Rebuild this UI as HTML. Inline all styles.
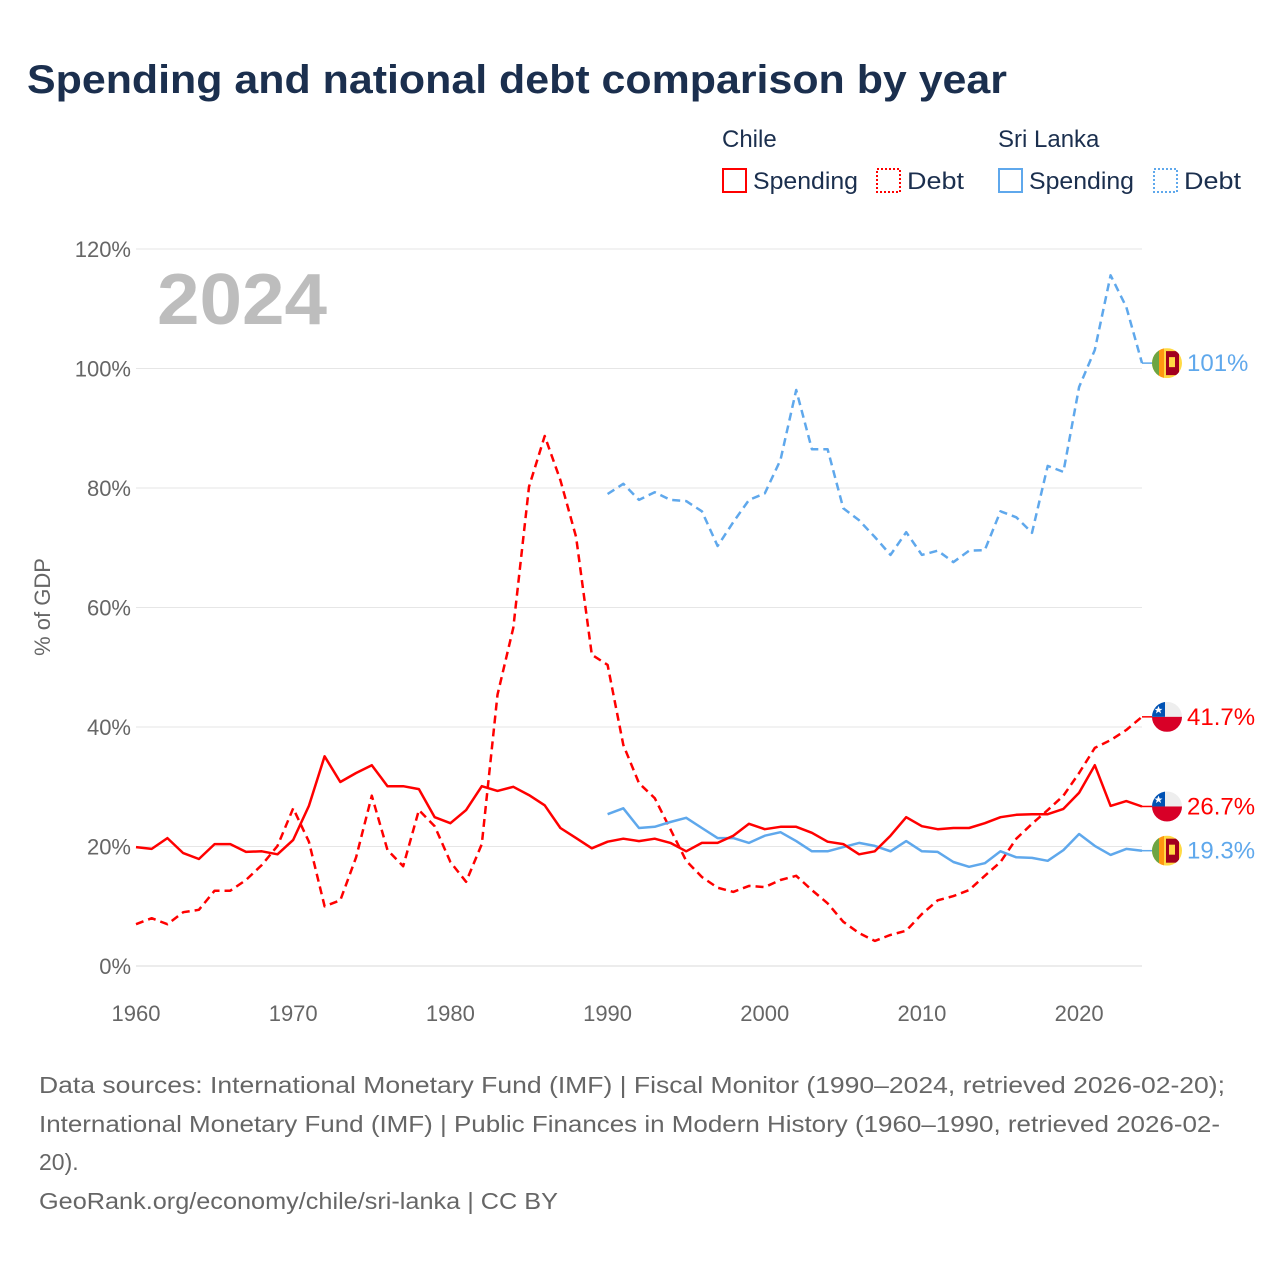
<!DOCTYPE html>
<html><head><meta charset="utf-8"><style>
html,body{margin:0;padding:0;background:#fff;}
svg{display:block;font-family:"Liberation Sans",sans-serif;}
</style></head><body>
<svg id="chart" width="1280" height="1280" viewBox="0 0 1280 1280">
<defs>
<clipPath id="fc"><circle cx="0" cy="0" r="15"/></clipPath>
</defs>
<text x="27" y="93" font-size="40" font-weight="bold" fill="#1b2f4e" textLength="980" lengthAdjust="spacingAndGlyphs">Spending and national debt comparison by year</text>
<g font-size="24" fill="#1b2f4e">
<text x="722" y="147">Chile</text>
<text x="998" y="147">Sri Lanka</text>
<g><rect x="723" y="169" width="23" height="23" fill="none" stroke="#ff0000" stroke-width="2"/><text x="753" y="189" textLength="105" lengthAdjust="spacingAndGlyphs">Spending</text></g>
<g><rect x="877" y="169" width="23" height="23" fill="none" stroke="#ff0000" stroke-width="2" stroke-dasharray="2,2"/><text x="907" y="189" textLength="57" lengthAdjust="spacingAndGlyphs">Debt</text></g>
<g><rect x="999" y="169" width="23" height="23" fill="none" stroke="#5fa8ec" stroke-width="2"/><text x="1029" y="189" textLength="105" lengthAdjust="spacingAndGlyphs">Spending</text></g>
<g><rect x="1154" y="169" width="23" height="23" fill="none" stroke="#5fa8ec" stroke-width="2" stroke-dasharray="2,2"/><text x="1184" y="189" textLength="57" lengthAdjust="spacingAndGlyphs">Debt</text></g>
</g>
<text x="157" y="324" font-size="72" font-weight="bold" fill="#bdbdbd" textLength="170" lengthAdjust="spacingAndGlyphs">2024</text>
<text transform="translate(50,607) rotate(-90)" text-anchor="middle" font-size="22" fill="#666">% of GDP</text>
<g id="grid"></g>
<g id="xaxis"></g>
<g id="series"></g>
<g id="ends"></g>
<g font-size="23" fill="#666">
<text x="39" y="1093" textLength="1186" lengthAdjust="spacingAndGlyphs">Data sources: International Monetary Fund (IMF) | Fiscal Monitor (1990–2024, retrieved 2026-02-20);</text>
<text x="39" y="1132" textLength="1181" lengthAdjust="spacingAndGlyphs">International Monetary Fund (IMF) | Public Finances in Modern History (1960–1990, retrieved 2026-02-</text>
<text x="39" y="1170">20).</text>
<text x="39" y="1209" textLength="519" lengthAdjust="spacingAndGlyphs">GeoRank.org/economy/chile/sri-lanka | CC BY</text>
</g>
</svg>
<script>
const yTicks = [0,20,40,60,80,100,120];
const xTicks = [1960,1970,1980,1990,2000,2010,2020];
const chileYears0 = 1960;
const lankaYears0 = 1990;
const chileSpending = [19.9,19.6,21.4,18.9,17.9,20.4,20.4,19.1,19.2,18.7,21.1,26.8,35.1,30.8,32.3,33.6,30.1,30.1,29.6,24.9,23.9,26.1,30.1,29.3,30.0,28.6,26.9,23.1,21.4,19.7,20.8,21.3,20.9,21.3,20.6,19.2,20.6,20.6,21.8,23.8,22.9,23.3,23.3,22.3,20.8,20.4,18.7,19.2,21.8,24.9,23.4,22.9,23.1,23.1,23.9,24.9,25.3,25.4,25.4,26.3,29.0,33.6,26.8,27.6,26.7];
const chileDebt = [7.0,8.0,7.0,9.0,9.4,12.6,12.6,14.4,16.9,20.1,26.4,20.8,10.0,11.0,18.2,28.5,19.4,16.7,26.1,23.4,17.4,14.1,20.4,45.4,56.6,80.2,88.7,81.3,71.8,52.1,50.4,37.0,30.6,28.1,22.9,17.6,14.9,13.1,12.4,13.4,13.2,14.4,15.1,12.7,10.5,7.4,5.5,4.2,5.2,5.9,8.7,11.0,11.7,12.7,15.1,17.4,21.3,23.8,26.1,28.5,32.3,36.5,37.8,39.5,41.7];
const lankaSpending = [25.4,26.4,23.1,23.3,24.1,24.8,23.1,21.4,21.4,20.6,21.8,22.4,20.9,19.2,19.2,19.9,20.6,20.1,19.2,20.9,19.2,19.1,17.4,16.6,17.2,19.2,18.2,18.1,17.6,19.4,22.1,20.1,18.6,19.6,19.3];
const lankaDebt = [79.0,80.7,78.0,79.3,78.0,77.8,76.1,70.3,74.3,78.0,79.1,84.7,96.4,86.5,86.5,76.6,74.6,71.8,68.8,72.6,68.8,69.5,67.6,69.5,69.6,76.1,75.1,72.5,83.7,82.7,96.9,103.1,115.6,110.3,100.9];
const endLabels = ["41.7%","26.7%","19.3%","101%"];

const NS="http://www.w3.org/2000/svg";
const X0=136, X1=1142, Y0=966, Y1=249;
function xs(yr){return X0+(yr-1960)*(X1-X0)/(2024-1960);}
function ys(v){return Y0-(v)*(Y0-Y1)/120;}
function mk(tag,attrs,parent){const e=document.createElementNS(NS,tag);for(const k in attrs)e.setAttribute(k,attrs[k]);parent.appendChild(e);return e;}

const grid=document.getElementById('grid');
yTicks.forEach(t=>{
  const l=mk('line',{x1:X0,x2:X1,y1:ys(t),y2:ys(t),stroke:t===0?'#d8d8d8':'#e6e6e6','stroke-width':1},grid);
  
  
  const tx=mk('text',{x:131,y:ys(t)+8,'text-anchor':'end','font-size':22,fill:'#666'},grid);
  tx.textContent=t+'%';
  
  
});
const xa=document.getElementById('xaxis');
xTicks.forEach(t=>{
  const tx=mk('text',{x:xs(t),y:1021,'text-anchor':'middle','font-size':22,fill:'#666'},xa);
  tx.textContent=t;
  
  
});
const ser=document.getElementById('series');
function line(vals,y0,color,dash,name){
  const d=vals.map((v,i)=>(i?'L':'M')+xs(y0+i).toFixed(1)+','+ys(v).toFixed(1)).join(' ');
  const p=mk('path',{d:d,fill:'none',stroke:color,'stroke-width':2.5,'stroke-linejoin':'round'},ser);
  if(dash)p.setAttribute('stroke-dasharray','8,5');
  
  
}
line(chileDebt,chileYears0,'#ff0000',true,'chile-debt-line');
line(lankaDebt,lankaYears0,'#5fa8ec',true,'srilanka-debt-line');
line(lankaSpending,lankaYears0,'#5fa8ec',false,'srilanka-spending-line');
line(chileSpending,chileYears0,'#ff0000',false,'chile-spending-line');

const ends=document.getElementById('ends');
function chileFlag(cy){
  const g=mk('g',{transform:'translate(1167,'+cy+')','clip-path':'url(#fc)'},ends);
  
  
  mk('rect',{x:-15,y:-15,width:30,height:15,fill:'#eeeeee'},g);
  mk('rect',{x:-15,y:0,width:30,height:15,fill:'#d80027'},g);
  mk('rect',{x:-15,y:-15,width:13,height:15,fill:'#0052b4'},g);
  mk('polygon',{points:'-8.5,-11 -7.3,-8 -4.5,-8 -6.8,-6.2 -5.9,-3.4 -8.5,-5.2 -11.1,-3.4 -10.2,-6.2 -12.5,-8 -9.7,-8',fill:'#fff'},g);
}
function lankaFlag(cy){
  const g=mk('g',{transform:'translate(1167,'+cy+')','clip-path':'url(#fc)'},ends);
  
  
  mk('rect',{x:-15,y:-15,width:30,height:30,fill:'#ffda44'},g);
  mk('rect',{x:-15,y:-15,width:7,height:30,fill:'#6da544'},g);
  mk('rect',{x:-8,y:-15,width:5,height:30,fill:'#ff9811'},g);
  mk('rect',{x:-1,y:-12,width:13,height:24,fill:'#a2001d'},g);
  mk('rect',{x:2,y:-6,width:6,height:10,fill:'#ffda44'},g);
}
const endVals=[chileDebt[chileDebt.length-1],chileSpending[chileSpending.length-1],lankaSpending[lankaSpending.length-1],lankaDebt[lankaDebt.length-1]];
const endColors=['#ff0000','#ff0000','#5fa8ec','#5fa8ec'];
const endNames=['chile-debt-end-label','chile-spending-end-label','srilanka-spending-end-label','srilanka-debt-end-label'];
endVals.forEach((v,i)=>{
  const cy=ys(v);
  mk('line',{x1:X1,x2:1152,y1:cy,y2:cy,stroke:endColors[i],'stroke-width':1.5},ends);
  if(i<2)chileFlag(cy);else lankaFlag(cy);
  const t=mk('text',{x:1187,y:cy+8,'font-size':24,fill:endColors[i]},ends);
  t.textContent=endLabels[i];
  
  
});
</script>
</body></html>
